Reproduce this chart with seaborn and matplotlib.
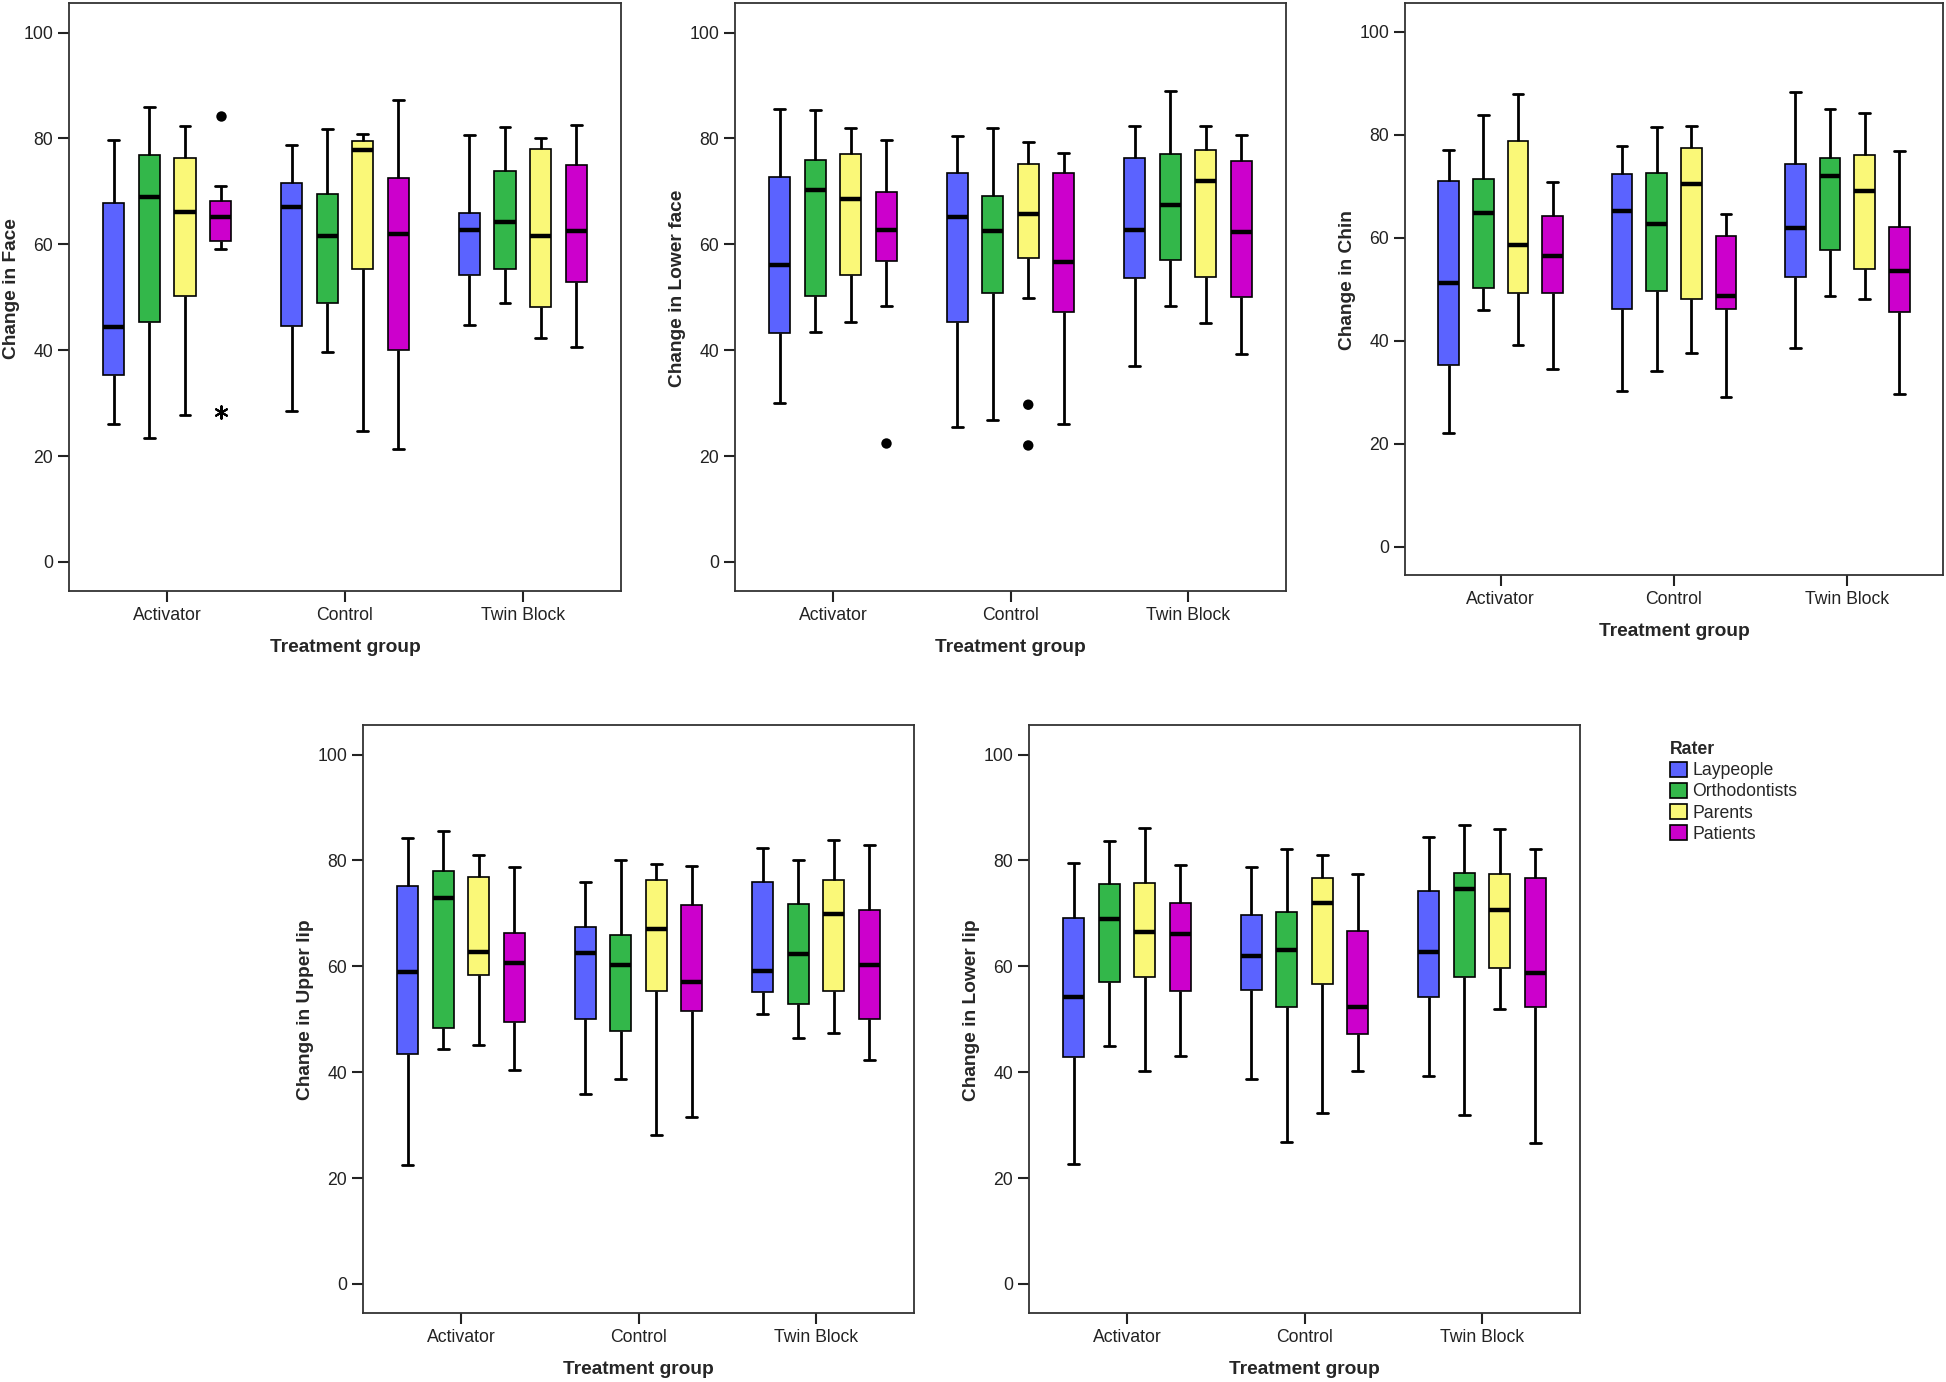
import pandas as pd
import matplotlib.pyplot as plt
import seaborn as sns

groups = ["Activator", "Control", "Twin Block"]
raters = ["Laypeople", "Orthodontists", "Parents", "Patients"]
rater_colors = ["#5B63FF", "#33B74A", "#FAF878", "#CC00CC"]

# box summaries: [whisker low, Q1, median, Q3, whisker high]
# order: Activator (4 raters), Control (4 raters), Twin Block (4 raters)
face = [
    [26.1, 35.3, 44.3, 67.9, 79.8], [23.4, 45.4, 68.9, 76.9, 85.9],
    [27.7, 50.2, 66.1, 76.3, 82.3], [59.2, 60.6, 65.1, 68.1, 71.0],
    [28.6, 44.6, 67.1, 71.6, 78.8], [39.6, 49.0, 61.5, 69.6, 81.8],
    [24.7, 55.3, 77.9, 79.6, 80.9], [21.3, 40.0, 61.9, 72.6, 87.2],
    [44.8, 54.3, 62.7, 66.0, 80.6], [49.0, 55.3, 64.2, 73.8, 82.2],
    [42.3, 48.2, 61.5, 78.1, 80.1], [40.6, 52.8, 62.5, 75.0, 82.5],
]
lower_face = [
    [30.1, 43.2, 56.1, 72.8, 85.6], [43.5, 50.2, 70.2, 75.9, 85.3],
    [45.4, 54.3, 68.5, 77.0, 81.9], [48.3, 56.9, 62.7, 69.8, 79.7],
    [25.5, 45.3, 65.2, 73.4, 80.4], [26.9, 50.9, 62.5, 69.2, 82.0],
    [49.8, 57.4, 65.8, 75.2, 79.3], [26.1, 47.3, 56.6, 73.4, 77.3],
    [37.0, 53.6, 62.8, 76.4, 82.4], [48.4, 57.0, 67.5, 77.1, 88.9],
    [45.2, 53.9, 72.0, 77.9, 82.4], [39.3, 50.0, 62.3, 75.7, 80.7],
]
chin = [
    [22.1, 35.2, 51.3, 71.0, 77.1], [45.9, 50.3, 64.8, 71.5, 83.8],
    [39.1, 49.2, 58.5, 78.7, 88.0], [34.6, 49.3, 56.5, 64.2, 70.8],
    [30.2, 46.2, 65.2, 72.4, 77.8], [34.2, 49.7, 62.6, 72.6, 81.5],
    [37.7, 48.2, 70.4, 77.4, 81.7], [29.0, 46.1, 48.6, 60.3, 64.6],
    [38.6, 52.4, 61.9, 74.4, 88.3], [48.7, 57.7, 72.0, 75.5, 85.1],
    [48.1, 53.9, 69.0, 76.0, 84.3], [29.6, 45.6, 53.5, 62.1, 76.9],
]
upper_lip = [
    [22.5, 43.5, 58.9, 75.1, 84.2], [44.3, 48.4, 73.0, 78.1, 85.6],
    [45.2, 58.3, 62.7, 76.8, 81.1], [40.4, 49.4, 60.6, 66.3, 78.8],
    [35.8, 50.0, 62.6, 67.5, 75.9], [38.8, 47.7, 60.2, 65.9, 80.0],
    [28.1, 55.3, 67.0, 76.3, 79.3], [31.6, 51.5, 57.1, 71.6, 79.0],
    [51.0, 55.1, 59.2, 76.0, 82.4], [46.5, 52.8, 62.3, 71.8, 80.0],
    [47.4, 55.3, 69.9, 76.4, 83.8], [42.3, 50.1, 60.2, 70.6, 82.9],
]
lower_lip = [
    [22.6, 42.8, 54.3, 69.1, 79.6], [44.9, 57.0, 69.0, 75.6, 83.6],
    [40.2, 58.0, 66.5, 75.8, 86.2], [43.0, 55.3, 66.2, 71.9, 79.2],
    [38.8, 55.5, 62.0, 69.7, 78.8], [26.8, 52.4, 63.0, 70.2, 82.2],
    [32.3, 56.6, 71.9, 76.7, 81.0], [40.2, 47.3, 52.3, 66.7, 77.4],
    [39.3, 54.2, 62.7, 74.3, 84.5], [31.9, 57.9, 74.7, 77.7, 86.7],
    [51.9, 59.7, 70.7, 77.4, 85.9], [26.6, 52.4, 58.8, 76.6, 82.2],
]

# outliers (circles) and extreme values (asterisks): (group, rater, value)
face_outliers = [("Activator", "Patients", 84.2)]
face_extremes = [("Activator", "Patients", 28.4)]
lower_face_outliers = [("Activator", "Patients", 22.4),
                       ("Control", "Parents", 29.7),
                       ("Control", "Parents", 22.0)]

W, H = 1946, 1382
# panel boxes in pixels: left, top, right, bottom
panels = [
    ("Change in Face", face, face_outliers, face_extremes, (69, 3, 621, 591)),
    ("Change in Lower face", lower_face, lower_face_outliers, [], (735, 3, 1286, 591)),
    ("Change in Chin", chin, [], [], (1405, 3, 1943, 575)),
    ("Change in Upper lip", upper_lip, [], [], (363, 725, 914, 1313)),
    ("Change in Lower lip", lower_lip, [], [], (1029, 725, 1580, 1313)),
]


def long_table(summary):
    rows = []
    for i, stats in enumerate(summary):
        for v in stats:
            rows.append((groups[i // 4], raters[i % 4], v))
    return pd.DataFrame(rows, columns=["group", "rater", "value"])


sns.set_style("ticks")
plt.rcParams["font.family"] = ["Liberation Sans", "DejaVu Sans"]
plt.rcParams["axes.edgecolor"] = "#333333"
plt.rcParams["axes.linewidth"] = 1.3

fig = plt.figure(figsize=(W / 100, H / 100), dpi=100)
legend_handles = None

for label, summary, circles, stars, (l, t, r, b) in panels:
    ax = fig.add_axes([l / W, 1 - b / H, (r - l) / W, (b - t) / H])
    sns.boxplot(data=long_table(summary), x="group", y="value", hue="rater",
                order=groups, hue_order=raters, palette=rater_colors,
                saturation=1, width=0.8, gap=0.4, whis=(0, 100),
                linecolor="black", linewidth=1.2,
                whiskerprops={"linewidth": 2}, capprops={"linewidth": 2},
                medianprops={"linewidth": 3.2, "color": "black"},
                legend=legend_handles is None, ax=ax)
    if legend_handles is None:
        leg = ax.get_legend()
        legend_handles = (leg.legend_handles, [tx.get_text() for tx in leg.get_texts()])
        leg.remove()
    for pts, marker, size in [(circles, "o", 7.5), (stars, (6, 2, 0), 9)]:
        if pts:
            sns.stripplot(data=pd.DataFrame(pts, columns=["group", "rater", "value"]),
                          x="group", y="value", hue="rater", order=groups,
                          hue_order=raters, palette=["black"] * 4, dodge=True,
                          jitter=False, marker=marker, size=size,
                          linewidth=1.5 if marker != "o" else 0,
                          edgecolor="black", legend=False, ax=ax)
    ax.set_xlim(-0.552, 2.552)
    ax.set_ylim(-5.5, 105.6)
    ax.set_yticks(range(0, 101, 20))
    ax.tick_params(length=8, width=1.5, labelsize=12.7, color="#222222",
                   labelcolor="#222222", pad=3.5)
    ax.set_ylabel(label, fontsize=13.8, fontweight="bold", labelpad=2)
    ax.yaxis.label.set_y(0.515)
    ax.set_xlabel("Treatment group", fontsize=13.8, fontweight="bold", labelpad=11)

handles, labels = legend_handles
fig.legend(handles, labels, title="Rater", loc="upper left",
           bbox_to_anchor=(1670 / W, 1 - 741 / H), frameon=False,
           alignment="left", fontsize=12.7,
           title_fontproperties={"weight": "bold", "size": 12.7},
           handlelength=0.95, handleheight=0.95, handletextpad=0.3,
           labelspacing=0.2, borderpad=0, borderaxespad=0)

fig.savefig("out.png", dpi=100)
